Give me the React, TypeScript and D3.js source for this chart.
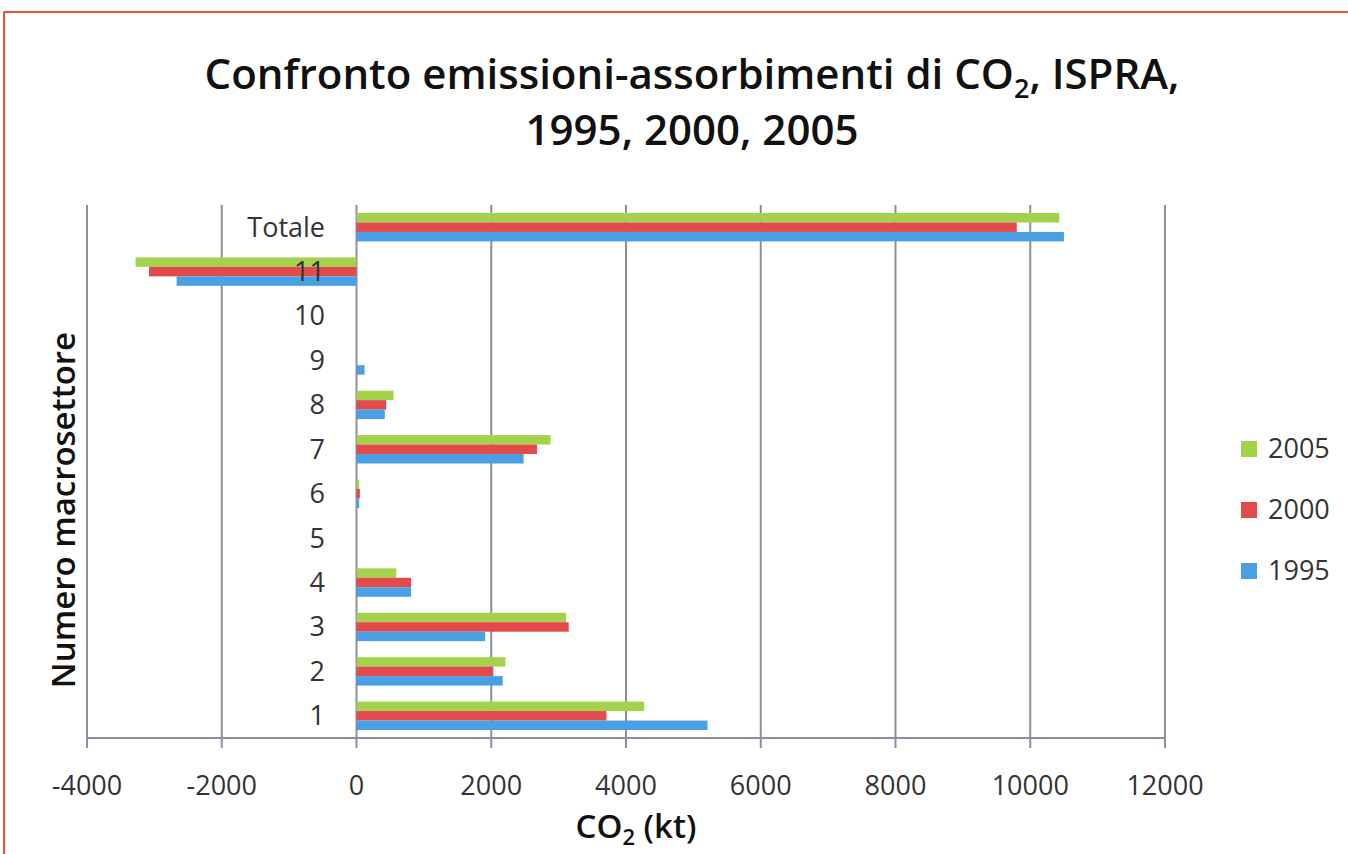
import React from "react";
import * as d3 from "d3";

const categories = ["1", "2", "3", "4", "5", "6", "7", "8", "9", "10", "11", "Totale"];
const seriesNames = ["2005", "2000", "1995"];
const values2005 = [4270, 2210, 3110, 590, 0, 40, 2880, 550, 0, 0, -3280, 10430];
const values2000 = [3710, 2030, 3150, 810, 0, 50, 2680, 440, 0, 0, -3080, 9800];
const values1995 = [5210, 2170, 1910, 810, 0, 40, 2480, 420, 120, 0, -2670, 10500];
const seriesColors = ["#a4d24c", "#e24a4c", "#4aa0e2"];
const xTicks = [-4000, -2000, 0, 2000, 4000, 6000, 8000, 10000, 12000];

const W = 1348;
const H = 854;
const font = "'Open Sans', 'DejaVu Sans', sans-serif";

export default function App() {
  const x = d3.scaleLinear().domain([-4000, 12000]).range([87, 1165]);
  const y = d3
    .scaleBand<string>()
    .domain(categories.slice().reverse())
    .range([205, 738])
    .paddingInner(0.36)
    .paddingOuter(0.18);
  const sub = d3.scaleBand<string>().domain(seriesNames).range([0, y.bandwidth()]);
  const seriesValues = [values2005, values2000, values1995];
  const gridColor = "#8e8e9e";

  return (
    <svg
      width={W}
      height={H}
      style={{ position: "absolute", left: 0, top: 0, background: "#fff" }}
    >
      <rect x={0} y={0} width={W} height={H} fill="#fff" />
      <line x1={4} y1={12} x2={W} y2={12} stroke="#f04a3c" strokeWidth={2} />
      <line x1={4} y1={12} x2={4} y2={H} stroke="#f04a3c" strokeWidth={2} />

      {/* Title */}
      <text
        x={692}
        y={89}
        textAnchor="middle"
        fontFamily={font}
        fontWeight={600}
        fontSize={42}
        fill="#111"
      >
        Confronto emissioni-assorbimenti di CO
        <tspan fontSize={27} dy={9}>2</tspan>
        <tspan dy={-9}>, ISPRA,</tspan>
      </text>
      <text
        x={692}
        y={145}
        textAnchor="middle"
        fontFamily={font}
        fontWeight={600}
        fontSize={42}
        fill="#111"
      >
        1995, 2000, 2005
      </text>

      {/* Grid lines */}
      {xTicks.map((t) => (
        <line
          key={"g" + t}
          x1={x(t)}
          x2={x(t)}
          y1={205}
          y2={748}
          stroke={gridColor}
          strokeWidth={2}
        />
      ))}
      {/* x axis */}
      <line x1={87} x2={1166} y1={738} y2={738} stroke={gridColor} strokeWidth={2} />

      {/* Bars */}
      {categories.map((c, i) =>
        seriesNames.map((s, j) => {
          const v = seriesValues[j][i];
          if (v === 0) return null;
          const x0 = x(Math.min(0, v));
          const x1 = x(Math.max(0, v));
          return (
            <rect
              key={c + s}
              x={x0}
              y={(y(c) as number) + (sub(s) as number)}
              width={x1 - x0}
              height={sub.bandwidth()}
              fill={seriesColors[j]}
            />
          );
        })
      )}

      {/* Category labels */}
      {categories.map((c) => (
        <text
          key={"l" + c}
          x={325}
          y={(y(c) as number) + y.bandwidth() / 2}
          dy="0.35em"
          textAnchor="end"
          fontFamily={font}
          fontSize={27}
          fill="#333"
        >
          {c}
        </text>
      ))}

      {/* X tick labels */}
      {xTicks.map((t) => (
        <text
          key={"t" + t}
          x={x(t)}
          y={786}
          dy="0.35em"
          textAnchor="middle"
          fontFamily={font}
          fontSize={27}
          fill="#333"
        >
          {t}
        </text>
      ))}

      {/* Axis titles */}
      <text
        x={636}
        y={838}
        textAnchor="middle"
        fontFamily={font}
        fontWeight={600}
        fontSize={33}
        fill="#111"
      >
        CO
        <tspan fontSize={22} dy={7}>2</tspan>
        <tspan dy={-7}> (kt)</tspan>
      </text>
      <text
        transform="translate(75,510) rotate(-90)"
        textAnchor="middle"
        fontFamily={font}
        fontWeight={600}
        fontSize={33}
        fill="#111"
      >
        Numero macrosettore
      </text>

      {/* Legend */}
      {seriesNames.map((s, j) => (
        <g key={"leg" + s} transform={`translate(0, ${449 + j * 61})`}>
          <rect x={1241} y={-8} width={16} height={16} fill={seriesColors[j]} />
          <text
            x={1268}
            y={0}
            dy="0.35em"
            fontFamily={font}
            fontSize={27}
            fill="#333"
          >
            {s}
          </text>
        </g>
      ))}
    </svg>
  );
}
